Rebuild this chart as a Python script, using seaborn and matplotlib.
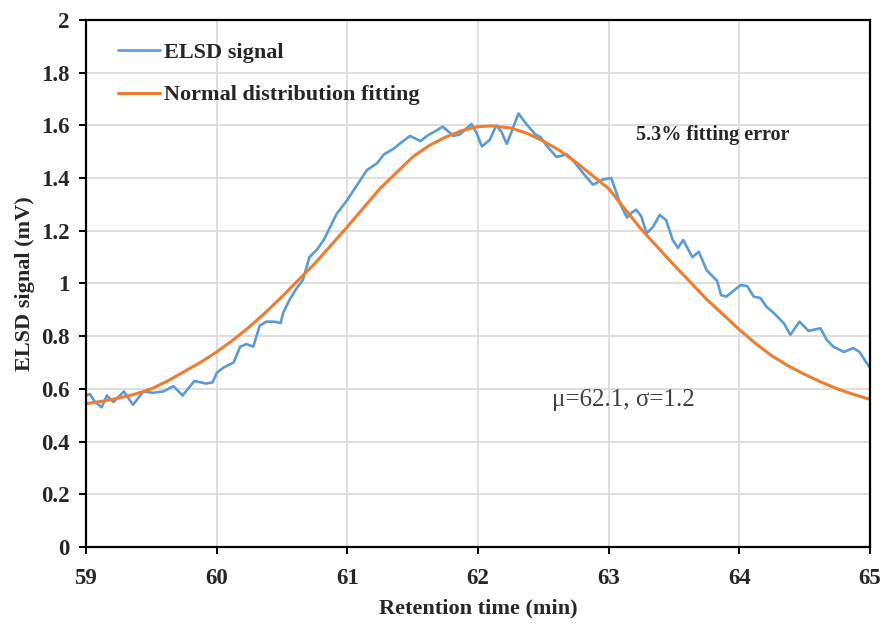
import numpy as np
import pandas as pd
import seaborn as sns
import matplotlib.pyplot as plt
from matplotlib.ticker import FuncFormatter

# ELSD signal
elsd_time = [59.0, 59.03, 59.07, 59.12, 59.16, 59.21, 59.29, 59.36, 59.44, 59.51,
             59.59, 59.67, 59.74, 59.83, 59.92, 59.97, 60.0, 60.05, 60.13, 60.18,
             60.23, 60.28, 60.33, 60.38, 60.44, 60.49, 60.51, 60.56, 60.61, 60.66,
             60.71, 60.77, 60.82, 60.87, 60.92, 61.0, 61.05, 61.10, 61.15, 61.23,
             61.28, 61.35, 61.40, 61.48, 61.56, 61.61, 61.68, 61.73, 61.79, 61.81,
             61.86, 61.95, 61.99, 62.03, 62.09, 62.14, 62.18, 62.22, 62.26, 62.31,
             62.37, 62.44, 62.48, 62.53, 62.60, 62.68, 62.73, 62.81, 62.88, 62.96,
             63.02, 63.09, 63.14, 63.18, 63.21, 63.25, 63.29, 63.34, 63.39, 63.44,
             63.49, 63.53, 63.57, 63.64, 63.69, 63.75, 63.83, 63.86, 63.90, 63.95,
             64.01, 64.06, 64.11, 64.16, 64.21, 64.26, 64.34, 64.39, 64.46, 64.53,
             64.62, 64.67, 64.72, 64.80, 64.87, 64.92, 64.975, 65.0]
elsd_signal = [0.575, 0.58, 0.55, 0.53, 0.575, 0.55, 0.59, 0.54, 0.59, 0.585,
               0.59, 0.61, 0.575, 0.63, 0.62, 0.625, 0.66, 0.68, 0.70, 0.76,
               0.77, 0.76, 0.84, 0.855, 0.855, 0.85, 0.89, 0.94, 0.98, 1.013,
               1.10, 1.13, 1.165, 1.216, 1.265, 1.317, 1.355, 1.393, 1.43, 1.457,
               1.49, 1.51, 1.53, 1.56, 1.54, 1.56, 1.58, 1.595, 1.57, 1.56,
               1.565, 1.605, 1.57, 1.52, 1.545, 1.60, 1.575, 1.53, 1.58, 1.645,
               1.605, 1.565, 1.555, 1.52, 1.48, 1.49, 1.465, 1.415, 1.375, 1.395,
               1.40, 1.30, 1.25, 1.27, 1.28, 1.254, 1.19, 1.215, 1.26, 1.24,
               1.165, 1.135, 1.165, 1.10, 1.12, 1.05, 1.01, 0.956, 0.95, 0.97,
               0.994, 0.99, 0.95, 0.945, 0.91, 0.89, 0.849, 0.805, 0.855, 0.82,
               0.83, 0.785, 0.76, 0.74, 0.755, 0.74, 0.697, 0.68]

# fitted normal curve
fit_time = [59.0, 59.125, 59.25, 59.375, 59.5, 59.625, 59.75, 59.875, 60.0, 60.125,
            60.25, 60.375, 60.5, 60.75, 61.0, 61.25, 61.5, 61.625, 61.75, 61.875,
            62.0, 62.1, 62.25, 62.375, 62.5, 62.625, 62.75, 63.0, 63.25, 63.5,
            63.75, 64.0, 64.125, 64.25, 64.375, 64.5, 64.625, 64.75, 64.875, 65.0]
fit_signal = [0.544, 0.553, 0.565, 0.58, 0.60, 0.63, 0.665, 0.70, 0.74, 0.785,
              0.835, 0.89, 0.95, 1.075, 1.215, 1.36, 1.48, 1.523, 1.555, 1.58,
              1.595, 1.598, 1.59, 1.57, 1.54, 1.505, 1.46, 1.36, 1.205, 1.07,
              0.94, 0.825, 0.772, 0.725, 0.687, 0.655, 0.626, 0.60, 0.579, 0.56]

x_ticks = [59, 60, 61, 62, 63, 64, 65]

sns.set_style("whitegrid", {"grid.color": "#d9d9d9", "axes.edgecolor": "black"})
plt.rcParams['font.family'] = ['Liberation Serif', 'DejaVu Serif']

df_sig = pd.DataFrame({"t": elsd_time, "s": elsd_signal})
df_fit = pd.DataFrame({"t": fit_time, "s": fit_signal})

fig = plt.figure(figsize=(8.86, 6.23), dpi=100)
ax = fig.add_axes([0.097, 0.122, 0.885, 0.846])

sns.lineplot(data=df_sig, x="t", y="s", color="#5B9BD5", linewidth=1.9,
             label="ELSD signal", ax=ax)
sns.lineplot(data=df_fit, x="t", y="s", color="#ED7D31", linewidth=2.2,
             label="Normal distribution fitting", ax=ax)

ax.set_xlim(59, 65)
ax.set_ylim(0, 2)
ax.set_xticks(x_ticks)
ax.set_yticks(np.arange(0, 2.01, 0.2))
ax.yaxis.set_major_formatter(FuncFormatter(lambda v, p: f"{v:g}"))
ax.grid(True, linewidth=1.2)

for side in ["left", "bottom", "top", "right"]:
    ax.spines[side].set_color("black")
    ax.spines[side].set_linewidth(1.6)
ax.tick_params(axis="both", which="major", direction="out", length=5,
               width=1.4, color="black", bottom=True, left=True,
               labelsize=16.5)
ax.tick_params(axis="x", pad=10)
ax.tick_params(axis="y", pad=7)
for lab in ax.get_xticklabels() + ax.get_yticklabels():
    lab.set_fontweight("bold")

ax.set_xlabel("Retention time (min)", fontsize=16, fontweight="bold", labelpad=7)
ax.set_ylabel("ELSD signal (mV)", fontsize=16, fontweight="bold", labelpad=4)

ax.text(63.21, 1.563, "5.3% fitting error", fontsize=14.5, fontweight="bold",
        va="center", ha="left")
ax.text(62.57, 0.558, "μ=62.1, σ=1.2", fontsize=18, color="#404040",
        va="center", ha="left")

leg = ax.legend(loc="upper left", bbox_to_anchor=(0.0297, 0.975), frameon=False,
                handlelength=1.9, handletextpad=0.15, labelspacing=1.0,
                borderaxespad=0, prop={"weight": "bold", "size": 16})

fig.savefig("out.png", dpi=100)
